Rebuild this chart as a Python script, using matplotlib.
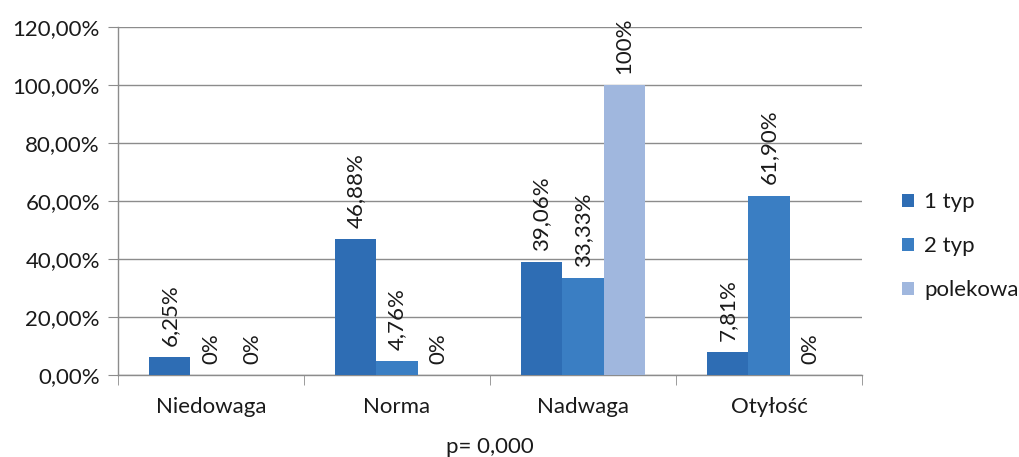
import matplotlib
matplotlib.use("Agg")
import matplotlib.pyplot as plt
import numpy as np
from matplotlib.ticker import FixedLocator, FuncFormatter

categories = ["Niedowaga", "Norma", "Nadwaga", "Otyłość"]
series_names = ["1 typ", "2 typ", "polekowa"]
typ1 = [6.25, 46.88, 39.06, 7.81]
typ2 = [0.0, 4.76, 33.33, 61.90]
polekowa = [0.0, 0.0, 100.0, 0.0]
bar_labels = [
    ["6,25%", "46,88%", "39,06%", "7,81%"],
    ["0%", "4,76%", "33,33%", "61,90%"],
    ["0%", "0%", "100%", "0%"],
]
colors = ["#2E6DB4", "#3A7EC3", "#A0B7DE"]

plt.rcParams["font.family"] = ["Lato", "DejaVu Sans"]
FS = 16
TXT = "#1a1a1a"

fig = plt.figure(figsize=(10.19, 4.57), dpi=100)
ax = fig.add_axes([0.1158, 0.1794, 0.7302, 0.7615])

x = np.arange(len(categories))
w = 0.223
series = [typ1, typ2, polekowa]
for i, (vals, name, col) in enumerate(zip(series, series_names, colors)):
    pos = x + (i - 1) * w
    ax.bar(pos, vals, width=w, color=col, label=name, zorder=3)
    for p, v, lab in zip(pos, vals, bar_labels[i]):
        ax.annotate(lab, (p, v), xytext=(0, 8), textcoords="offset points",
                    rotation=90, ha="center", va="bottom", fontsize=FS,
                    color=TXT)

ax.set_xlim(-0.5, len(categories) - 0.5)
ax.set_ylim(0, 120)
ax.yaxis.set_major_locator(FixedLocator(np.arange(0, 121, 20)))
ax.yaxis.set_major_formatter(FuncFormatter(lambda v, _: f"{v:.2f}%".replace(".", ",")))
ax.grid(axis="y", color="#8c8c8c", linewidth=1.0, zorder=0)

ax.set_xticks(x)
ax.set_xticklabels(categories)
ax.set_xticks(np.arange(-0.5, len(categories)), minor=True)
ax.tick_params(axis="x", which="major", length=0, labelsize=FS, pad=16,
               labelcolor=TXT)
ax.tick_params(axis="x", which="minor", length=7, color="#8c8c8c", direction="out")
ax.tick_params(axis="y", length=7, color="#8c8c8c", direction="out",
               labelsize=FS, pad=6, labelcolor=TXT)

for side in ["top", "right"]:
    ax.spines[side].set_visible(False)
for side in ["left", "bottom"]:
    ax.spines[side].set_color("#8c8c8c")
    ax.spines[side].set_linewidth(1.0)

ax.set_xlabel("p= 0,000", fontsize=FS, labelpad=14, color=TXT)

leg = ax.legend(loc="center left", bbox_to_anchor=(1.027, 0.37), frameon=False,
                fontsize=FS, handlelength=0.55, handleheight=0.55,
                handletextpad=0.45, labelspacing=1.08)
for t in leg.get_texts():
    t.set_color(TXT)

fig.savefig("out.png", dpi=100)
